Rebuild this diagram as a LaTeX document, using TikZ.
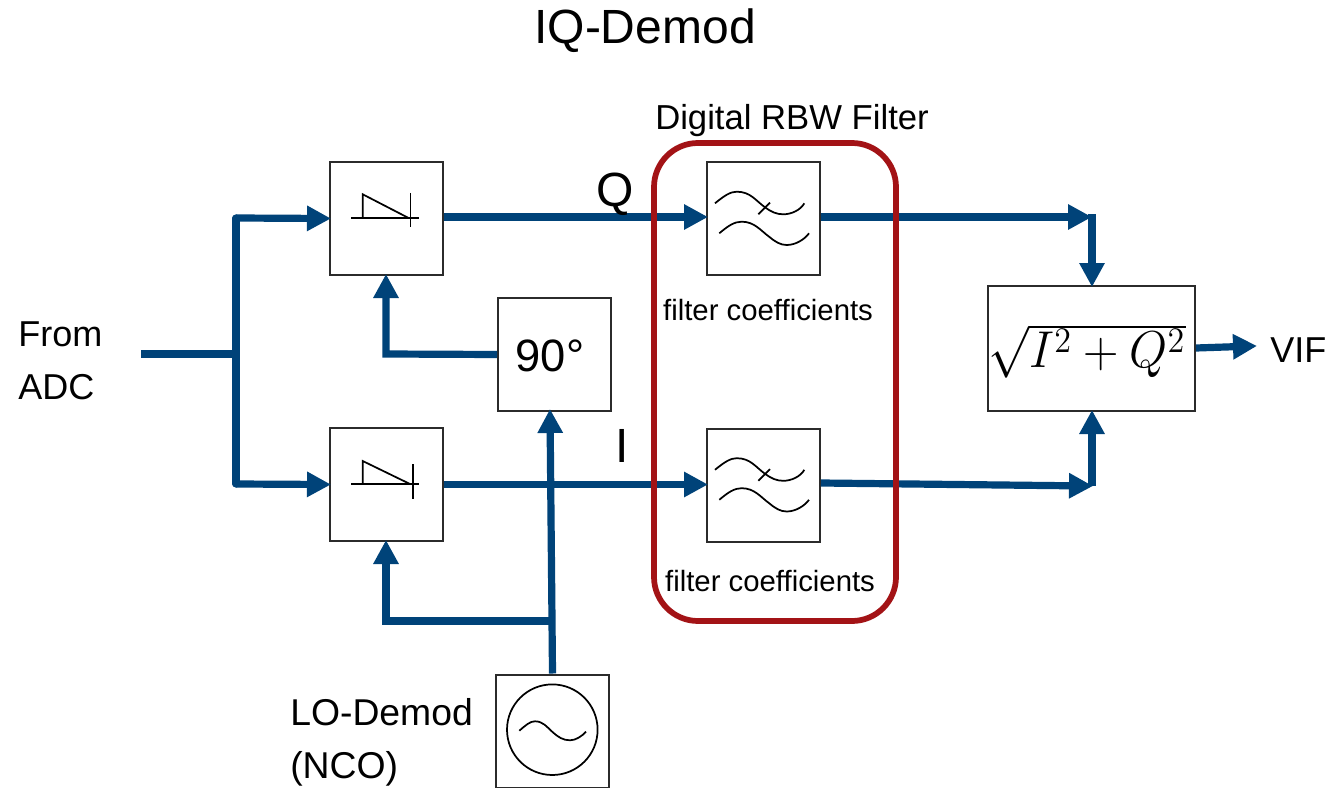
\documentclass[tikz,border=0pt]{standalone}
\usepackage{fontspec}
\usepackage{graphicx}
\setmainfont{Liberation Sans}
\usetikzlibrary{arrows.meta,calc}
\definecolor{wireblue}{HTML}{004379}
\definecolor{framered}{HTML}{A31316}
\definecolor{boxline}{HTML}{2B2B2B}
\tikzset{
  box/.style={draw=boxline,line width=1.5pt,fill=white,inner sep=0pt,minimum width=84.75pt,minimum height=84.75pt},
  wire/.style={draw=wireblue,line width=5.4pt},
  arrowwire/.style={wire,-{Triangle[length=18pt,width=18pt]},shorten >=-1.5pt},
  glyph/.style={draw=black,line width=1.3pt},
  label/.style={inner sep=0pt,text=black},
  pics/filterglyph/.style={code={
    \draw[glyph] (-48.5,-15.2) .. controls (-39,-23) and (-33,-26.8) .. (-26.8,-26.8) .. controls (-13,-26.8) and (-8,-18) .. (1.5,-11.2) .. controls (8,-6.5) and (13,-4.2) .. (19.8,-4.2) .. controls (28,-4.2) and (37,-8.5) .. (40.8,-15.2);
    \draw[glyph] (-44.2,14.8) .. controls (-35,7) and (-29,3.2) .. (-21.8,3.2) .. controls (-9,3.2) and (-3,12) .. (6,18.5) .. controls (12,23.5) and (17,26.5) .. (23.2,26.5) .. controls (32,26.5) and (41,21) .. (45.5,14.8);
    \draw[glyph] (-5.2,-4.2) -- (6.5,-15.8);
  }}
}
\begin{document}
\begin{tikzpicture}[x=0.75pt,y=-0.75pt]
\useasboundingbox (0,0) rectangle (1338,788);
\fill[white] (0,0) rectangle (1338,788);

% junction and free-end coordinates
\coordinate (adc) at (141,354);
\coordinate (split) at (236,354);
\coordinate (splitq) at (236,218);
\coordinate (spliti) at (236,484);
\coordinate (qcorner) at (1092,217);
\coordinate (qtip) at (1090,217);
\coordinate (icorner) at (1092,486);
\coordinate (itip) at (1091,486);
\coordinate (lobranch) at (553,621);
\coordinate (locorner) at (386,621);
\coordinate (phasecorner) at (386,354);
\coordinate (viftip) at (1255,346);

% wires below boxes
\draw[wire,line cap=butt] (adc) -- (split);
\draw[wire,line cap=round] (splitq) -- (spliti);

% boxes
\node[box] (mixq) at (386.5,218.5) {};
\node[box] (mixi) at (386.5,484.5) {};
\node[box] (phase) at (554.5,354.5) {};
\node[box] (filtq) at (763.5,218.5) {};
\node[box] (filti) at (763.5,485) {};
\node[box,minimum width=155.25pt,minimum height=93.75pt] (mag) at (1091.5,348.5) {};
\node[box] (nco) at (552.5,731) {};

% wires
\draw[arrowwire] (splitq) -- (mixq.west);
\draw[arrowwire] (spliti) -- (mixi.west);
\draw[arrowwire] (mixq.east |- 0,217) -- (filtq.west |- 0,217);
\draw[arrowwire] (mixi.east) -- (filti.west |- mixi.east);
\draw[arrowwire] (filtq.east |- 0,217) -- (qtip);
\draw[arrowwire] (filti.east |- 0,483) -- (itip);
\draw[wire] ($(qcorner)+(0,-3)$) -- (qcorner);
\draw[arrowwire] (qcorner) -- (mag.north -| qcorner);
\draw[arrowwire] (icorner) -- (mag.south -| icorner);
\draw[arrowwire] (mag.east |- 0,348) -- (viftip);
\draw[arrowwire] (phase.west) -- (phasecorner) -- (mixq.south -| phasecorner);
\draw[arrowwire] (nco.north) -- (550,411);
\draw[arrowwire] (lobranch) -- (locorner) -- (mixi.south -| locorner);

% frame
\draw[framered,line width=4.3pt,rounded corners=33pt] (654,143) rectangle (896,621);

% mixer glyphs
\draw[glyph] (351,217.7) -- (419.3,217.7);
\draw[glyph] (362.7,217.7) -- (362.7,194.3) -- (408,217.7);
\draw[glyph] (410.5,193) -- (410.5,227);
\draw[glyph] (351,484) -- (419.3,484);
\draw[glyph] (362.7,484) -- (362.7,461) -- (410,484);
\draw[glyph] (412.7,464) -- (412.7,498.6);

% filter glyphs
\pic at (filtq.center) {filterglyph};
\pic at (filti.center) {filterglyph};

% oscillator glyph
\draw[glyph] (552.3,729.7) circle[radius=45.3];
\draw[glyph] (519.3,730.7) .. controls (526,725) and (530,721.3) .. (535,721.3) .. controls (543,721.3) and (547,727) .. (552.5,732) .. controls (558,737) and (563,740.3) .. (570,740.3) .. controls (576,740.3) and (582,736) .. (586,731.7);

% texts
\node[label] (title) at (645,31) {\fontsize{36}{40}\selectfont IQ-Demod};
\node[label] (rbw) at (792,121) {\fontsize{26}{30}\selectfont Digital RBW Filter};
\node[label,align=left,anchor=west,font=\fontsize{27}{40}\selectfont] (from) at (18,361) {From\\ADC};
\node[label] (qlab) at (615,194) {\fontsize{36}{40}\selectfont Q};
\node[label] (ilab) at (622,446) {\fontsize{36}{40}\selectfont I};
\node[label] (deg) at (550,356) {\fontsize{34}{38}\selectfont 90°};
\node[label] (fc1) at (768,310) {\fontsize{22}{26}\selectfont filter coefficients};
\node[label] (fc2) at (770,581) {\fontsize{22}{26}\selectfont filter coefficients};
\node[label,align=left,anchor=west,font=\fontsize{28}{40}\selectfont] (lo) at (290,742) {LO-Demod\\(NCO)};
\node[label,anchor=west] (vif) at (1270,350) {\fontsize{27}{30}\selectfont VIF};
\node[label] (formula) at (1087,351) {\scalebox{2.13}[2.25]{\fontsize{17}{20}\selectfont $\sqrt{I^{2}+Q^{2}}$}};
\end{tikzpicture}
\end{document}
